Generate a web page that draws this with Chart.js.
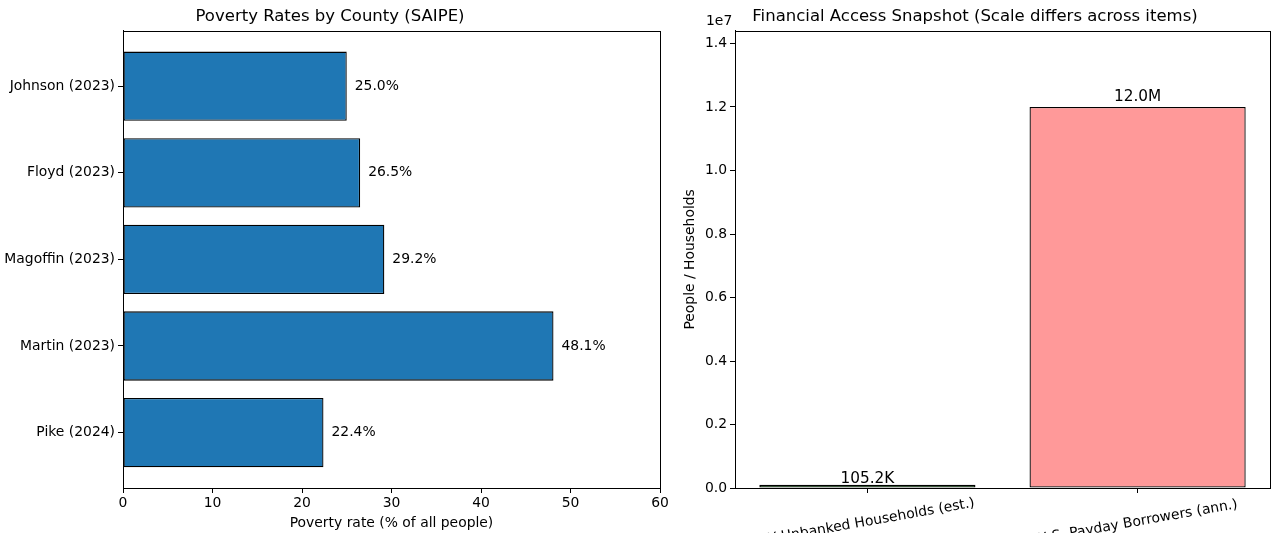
<!DOCTYPE html>
<html>
<head>
<meta charset="utf-8">
<script src="https://cdn.jsdelivr.net/npm/chart.js@4.4.0/dist/chart.umd.min.js"></script>
<style>
  html, body { margin: 0; padding: 0; background: #fff; overflow: hidden; }
  #wrapLeft { position: absolute; left: 0; top: 0; width: 680px; height: 533px; }
  #wrapRight { position: absolute; left: 680px; top: 0; width: 593px; height: 533px; }
</style>
</head>
<body>
<div id="wrapLeft"><canvas id="povertyChart"></canvas></div>
<div id="wrapRight"><canvas id="accessChart"></canvas></div>
<script>
// data
const counties = ["Johnson (2023)", "Floyd (2023)", "Magoffin (2023)", "Martin (2023)", "Pike (2024)"];
const povertyRates = [25.0, 26.5, 29.2, 48.1, 22.4];
const povertyTicks = [0, 10, 20, 30, 40, 50, 60];

const accessItems = ["KY Unbanked Households (est.)", "U.S. Payday Borrowers (ann.)"];
const accessValues = [105200, 12000000];
const accessLabels = ["105.2K", "12.0M"];
const accessColors = ["#2ca02c", "#ff9999"];
const accessTicks = [0, 2e6, 4e6, 6e6, 8e6, 1e7, 1.2e7, 1.4e7];

const FONT = "'DejaVu Sans', sans-serif";
Chart.defaults.font.family = FONT;
Chart.defaults.color = '#000';
Chart.defaults.animation = false;

// box around plot area (matplotlib spines)
const frameBox = {
  id: 'frameBox',
  afterDraw(chart) {
    const a = chart.chartArea, ctx = chart.ctx;
    ctx.save();
    ctx.strokeStyle = '#000';
    ctx.lineWidth = 1;
    ctx.strokeRect(Math.round(a.left) + 0.5, Math.round(a.top) + 0.5, Math.round(a.right - a.left), Math.round(a.bottom - a.top));
    ctx.restore();
  }
};

// left: value labels next to bars
const povertyLabels = {
  id: 'povertyLabels',
  afterDatasetsDraw(chart) {
    const ctx = chart.ctx;
    const meta = chart.getDatasetMeta(0);
    ctx.save();
    ctx.font = '13.9px ' + FONT;
    ctx.fillStyle = '#000';
    ctx.textAlign = 'left';
    ctx.textBaseline = 'middle';
    meta.data.forEach((bar, i) => {
      ctx.fillText(povertyRates[i].toFixed(1) + '%', bar.x + 8, bar.y);
    });
    ctx.restore();
  }
};

new Chart(document.getElementById('povertyChart'), {
  type: 'bar',
  data: {
    datasets: [{
      data: povertyRates.map((v, i) => ({ x: v, y: i })),
      backgroundColor: '#1f77b4',
      borderColor: '#000',
      borderWidth: 1.3,
      borderSkipped: false,
      barPercentage: 0.8,
      categoryPercentage: 1
    }]
  },
  options: {
    indexAxis: 'y',
    responsive: true,
    maintainAspectRatio: false,
    layout: { padding: { left: 0, right: 20, top: 0, bottom: 0 } },
    plugins: {
      legend: { display: false },
      tooltip: { enabled: false },
      title: {
        display: true,
        text: 'Poverty Rates by County (SAIPE)',
        font: { size: 16.5, weight: 'normal' },
        padding: { top: 7, bottom: 4 }
      }
    },
    scales: {
      x: {
        type: 'linear',
        min: 0, max: 60,
        afterBuildTicks: s => { s.ticks = povertyTicks.map(v => ({ value: v })); },
        afterFit: s => { s.height = 45; },
        grid: { display: true, drawOnChartArea: false, drawTicks: true, tickLength: 5, color: '#000' },
        border: { display: true, color: '#000' },
        ticks: { font: { size: 13.9 }, padding: 2, maxRotation: 0 },
        title: { display: true, text: 'Poverty rate (% of all people)', font: { size: 13.9 }, padding: { top: 0, bottom: 1 } }
      },
      y: {
        type: 'linear',
        reverse: true,
        offset: false,
        min: -0.64, max: 4.64,
        afterBuildTicks: s => { s.ticks = counties.map((c, i) => ({ value: i })); },
        afterFit: s => { s.width = 123; },
        grid: { display: true, offset: false, drawOnChartArea: false, drawTicks: true, tickLength: 5, color: '#000' },
        border: { display: true, color: '#000' },
        ticks: { font: { size: 13.9 }, padding: 3, callback: v => counties[v] }
      }
    }
  },
  plugins: [frameBox, povertyLabels]
});

// right: value labels, rotated category labels, 1e7 offset text
const accessExtras = {
  id: 'accessExtras',
  afterDatasetsDraw(chart) {
    const ctx = chart.ctx;
    const ys = chart.scales.y;
    const meta = chart.getDatasetMeta(0);
    ctx.save();
    ctx.font = '15.3px ' + FONT;
    ctx.fillStyle = '#000';
    ctx.textAlign = 'center';
    ctx.textBaseline = 'alphabetic';
    meta.data.forEach((bar, i) => {
      ctx.fillText(accessLabels[i], bar.x, ys.getPixelForValue(accessValues[i] * 1.01) - 2);
    });
    ctx.restore();
  },
  afterDraw(chart) {
    const ctx = chart.ctx;
    const xs = chart.scales.x, a = chart.chartArea;
    ctx.save();
    ctx.font = '13.9px ' + FONT;
    ctx.fillStyle = '#000';
    ctx.textAlign = 'center';
    ctx.textBaseline = 'middle';
    accessItems.forEach((name, i) => {
      const px = xs.getPixelForValue(i);
      ctx.save();
      ctx.translate(px, a.bottom + 34);
      ctx.rotate(-10 * Math.PI / 180);
      ctx.fillText(name, 0, 0);
      ctx.restore();
    });
    ctx.textAlign = 'left';
    ctx.textBaseline = 'bottom';
    ctx.fillText('1e7', a.left - 29, a.top - 2);
    ctx.restore();
  }
};

new Chart(document.getElementById('accessChart'), {
  type: 'bar',
  data: {
    datasets: [{
      data: accessValues.map((v, i) => ({ x: i, y: v })),
      backgroundColor: accessColors,
      borderColor: '#000',
      borderWidth: 1.3,
      borderSkipped: false,
      barPercentage: 0.8,
      categoryPercentage: 1
    }]
  },
  options: {
    responsive: true,
    maintainAspectRatio: false,
    layout: { padding: { left: 0, right: 3, top: 0, bottom: 0 } },
    plugins: {
      legend: { display: false },
      tooltip: { enabled: false },
      title: {
        display: true,
        text: 'Financial Access Snapshot (Scale differs across items)',
        font: { size: 16.5, weight: 'normal' },
        padding: { top: 7, bottom: 4 }
      }
    },
    scales: {
      x: {
        type: 'linear',
        offset: false,
        min: -0.49, max: 1.49,
        afterBuildTicks: s => { s.ticks = accessItems.map((n, i) => ({ value: i })); },
        afterFit: s => { s.height = 45; },
        grid: { display: true, offset: false, drawOnChartArea: false, drawTicks: true, tickLength: 5, color: '#000' },
        border: { display: true, color: '#000' },
        ticks: { callback: () => '' }
      },
      y: {
        type: 'linear',
        min: 0, max: 1.44e7,
        afterBuildTicks: s => { s.ticks = accessTicks.map(v => ({ value: v })); },
        afterFit: s => { s.width = 55; },
        grid: { display: true, drawOnChartArea: false, drawTicks: true, tickLength: 5, color: '#000' },
        border: { display: true, color: '#000' },
        ticks: { font: { size: 13.9 }, padding: 3, callback: v => (v / 1e7).toFixed(1) },
        title: { display: true, text: 'People / Households', font: { size: 13.9 }, padding: { top: 2, bottom: 0 } }
      }
    }
  },
  plugins: [frameBox, accessExtras]
});
</script>
</body>
</html>
